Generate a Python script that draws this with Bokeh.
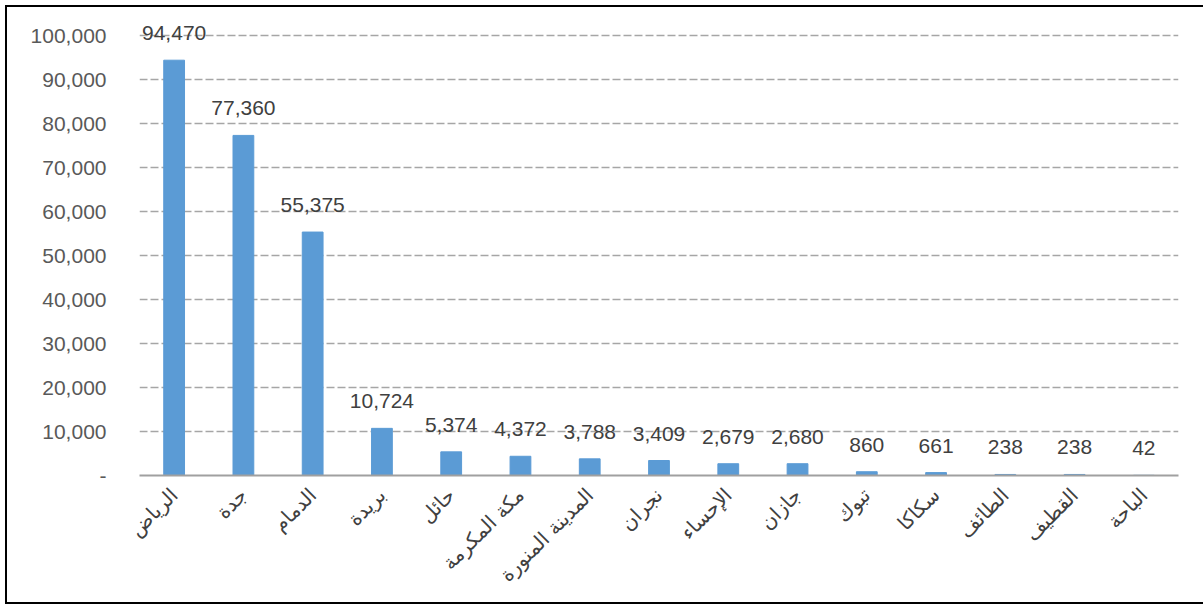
import math
from bokeh.plotting import figure
from bokeh.models import ColumnDataSource, NumeralTickFormatter, FixedTicker, Range1d, LabelSet
from bokeh.core.properties import value
from bokeh.embed import file_html
from bokeh.resources import INLINE

cities = ["الرياض", "جدة", "الدمام", "بريدة", "حائل", "مكة المكرمة", "المدينة المنورة",
          "نجران", "الإحساء", "جازان", "تبوك", "سكاكا", "الطائف", "القطيف", "الباحة"]
values = [94470, 77360, 55375, 10724, 5374, 4372, 3788, 3409, 2679, 2680, 860, 661, 238, 238, 42]
labels = [f"{v:,}" for v in values]
y_ticks = list(range(0, 100001, 10000))

src = ColumnDataSource(dict(city=cities, value=values, label=labels))

p = figure(x_range=cities, y_range=Range1d(0, 106000), width=1198, height=599,
           output_backend="svg", toolbar_location=None,
           min_border_left=132, min_border_right=27, min_border_top=2, min_border_bottom=131)
p.margin = (5, 0, 0, 5)
p.styles = {"border-left": "2px solid #000", "border-top": "2px solid #000",
            "border-bottom": "2px solid #000", "box-sizing": "border-box"}
p.outline_line_color = None
p.background_fill_color = "white"
p.border_fill_color = "white"

p.vbar(x="city", top="value", width=0.3, source=src, color="#5B9BD5")
p.add_layout(LabelSet(x="city", y="value", text="label", source=src, text_align="center",
                      text_baseline="bottom", y_offset=20, text_font_size="21px",
                      text_color="#404040", text_font=value("Liberation Sans")))

p.x_range.range_padding = 0
p.xgrid.grid_line_color = None
p.ygrid.grid_line_color = "#A6A6A6"
p.ygrid.grid_line_dash = "8 3"
p.ygrid.grid_line_width = 1.5

p.yaxis.ticker = FixedTicker(ticks=y_ticks)
p.yaxis.formatter = NumeralTickFormatter(format="0,0")
p.yaxis.major_label_overrides = {0: "-"}
p.yaxis.axis_line_color = None
p.yaxis.major_tick_line_color = None
p.yaxis.minor_tick_line_color = None
p.yaxis.major_label_standoff = 27
p.yaxis.major_label_text_font_size = "21px"
p.yaxis.major_label_text_color = "#595959"
p.yaxis.major_label_text_font = "Liberation Sans"

p.xaxis.axis_line_color = "#A0A0A0"
p.xaxis.axis_line_width = 2
p.xaxis.major_tick_line_color = None
p.xaxis.minor_tick_line_color = None
p.xaxis.major_label_orientation = math.pi / 4
p.xaxis.major_label_standoff = 10
p.xaxis.major_label_text_font_size = "20px"
p.xaxis.major_label_text_color = "#404040"
p.xaxis.major_label_text_font = "DejaVu Sans"

open("out.html", "w").write(file_html(p, INLINE))
